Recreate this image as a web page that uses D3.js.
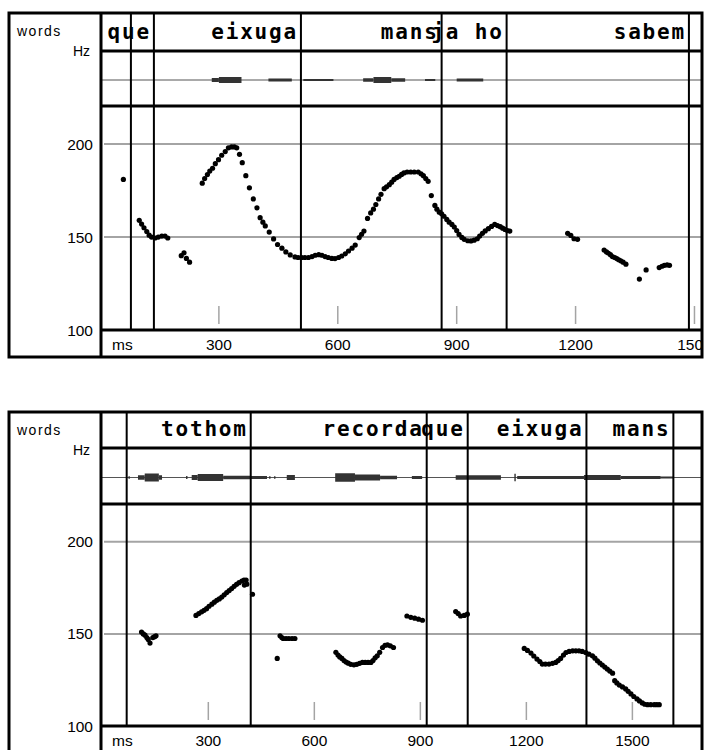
<!DOCTYPE html>
<html>
<head>
<meta charset="utf-8">
<script src="https://cdn.jsdelivr.net/npm/d3@7"></script>
<style>
  body { margin: 0; background: #fff; }
  svg { display: block; }
</style>
</head>
<body>
<div id="chart"></div>
<script>
// --- data (ms / Hz) ---

// word tier: [start ms, end ms, label]
const words1 = [
  [0, 78, ""], [78, 136, "que"], [136, 507, "eixuga"], [507, 862, "mans"],
  [862, 1026, "ja ho"], [1026, 1486, "sabem"], [1486, 1519, ""]
];
const words2 = [
  [0, 69, ""], [69, 420, "tothom"], [420, 918, "recorda"], [918, 1034, "que"],
  [1034, 1370, "eixuga"], [1370, 1616, "mans"], [1616, 1697, ""]
];

// pitch track: [ms, Hz]
const pitch1 = [
  [59, 181],
  [99, 159], [105, 157], [111, 155], [118, 153], [124, 151], [130, 150], [139, 149.5],
  [147, 150], [156, 150.5], [164, 150.5], [171, 149.5],
  [205, 140], [212, 141.5], [218, 138.5], [226, 136.5],
  [258, 179], [264, 181.5], [271, 183.6], [277, 185.5], [284, 187], [291, 189.5], [299, 191.6],
  [307, 194], [316, 196], [324, 198], [332, 198.5], [339, 198.5], [345, 198], [352, 194.5],
  [359, 190], [368, 183], [377, 176.5], [387, 170.5], [396, 165.7], [404, 160.4], [411, 158],
  [417, 156], [427, 152.7], [438, 149], [448, 146], [459, 144], [469, 142], [480, 140.4],
  [492, 139.3], [500, 139], [509, 139], [517, 139], [526, 139], [535, 139.5], [543, 140.2],
  [552, 140.5], [560, 140.2], [568, 139.5], [576, 139], [585, 138.5], [593, 138.4], [602, 139],
  [610, 139.8], [619, 141], [627, 142.5], [636, 144], [644, 145.7], [654, 149.7], [660, 151.5],
  [666, 153.2], [675, 160], [683, 163], [690, 165], [696, 167.5], [703, 170.5], [709, 173],
  [717, 176], [723, 177], [730, 178.2], [736, 179.5], [742, 181], [749, 182], [755, 182.7],
  [761, 183.7], [767, 184.5], [775, 185], [784, 185], [793, 185], [803, 185], [810, 184],
  [816, 183], [822, 181.5], [828, 180], [836, 172.3], [845, 167], [850, 165], [856, 163.4],
  [862, 162.5], [868, 161.2], [875, 159.5], [881, 158], [888, 156.8], [894, 155.4], [900, 153.5],
  [906, 151.4], [913, 149.8], [919, 148.8], [928, 148], [936, 147.9], [944, 148.3], [952, 149.1],
  [958, 150.5], [965, 152], [972, 153.3], [980, 154.5], [988, 155.7], [996, 156.8], [1003, 156.2],
  [1010, 155.6], [1016, 154.8], [1022, 154.1], [1028, 153.5], [1034, 153.2],
  [1180, 152], [1188, 150.9], [1196, 149.1], [1205, 148.8],
  [1272, 143], [1278, 142], [1283, 141.3], [1288, 140.5], [1293, 139.5], [1299, 139],
  [1304, 138.4], [1309, 137.8], [1314, 137.2], [1320, 136.5], [1327, 135.4],
  [1361, 127.4], [1378, 132.3],
  [1411, 133.6], [1418, 134.3], [1424, 134.8], [1431, 135], [1437, 134.8]
];
const pitch2 = [
  [111, 151], [116, 150], [121, 149.3], [126, 148], [130, 147], [135, 145], [143, 148],
  [148, 148.5], [152, 149],
  [265, 160], [273, 161], [281, 162], [288, 162.8], [295, 163.7], [302, 165], [310, 166.1],
  [317, 167.2], [324, 168.2], [331, 169], [338, 170], [345, 171.2], [352, 172.4], [359, 173.5],
  [366, 174.6], [373, 175.8], [380, 176.9], [387, 177.8], [395, 178.7], [401, 179.2],
  [407, 179.2], [402, 176.5], [409, 177], [425, 171.5],
  [495, 136.7],
  [503, 149], [508, 148], [512, 147.5], [520, 147.5], [528, 147.5], [537, 147.5], [545, 147.5],
  [661, 140], [667, 138.5], [672, 137.5], [678, 136.7], [684, 135.5], [690, 134.7], [696, 134.1],
  [703, 133.5], [712, 133.2], [720, 133.5], [728, 134], [736, 134.5], [744, 134.5], [752, 134.5],
  [760, 134.5], [766, 135.5], [772, 137], [778, 138.1], [785, 140], [793, 142.6], [800, 143.8],
  [807, 144], [815, 143.5], [824, 142.6],
  [862, 159.7], [873, 159], [884, 158.5], [895, 158], [906, 157.4],
  [1000, 162.1], [1007, 161], [1014, 159.7], [1024, 160], [1033, 160.7],
  [1194, 142.1], [1203, 141], [1213, 139.6], [1221, 138], [1230, 136.3], [1238, 135],
  [1245, 133.6], [1254, 133.6], [1264, 133.6], [1274, 134], [1283, 134.5], [1290, 135.5],
  [1297, 136.7], [1305, 138.5], [1312, 139.9], [1321, 140.5], [1331, 140.8], [1340, 140.8],
  [1349, 140.8], [1358, 140.5], [1368, 139.9], [1377, 139], [1387, 138.1], [1394, 136.8],
  [1401, 135.4], [1408, 134.2], [1415, 133.1], [1422, 132], [1429, 130.9], [1436, 129.8],
  [1444, 128.7], [1450, 124.6], [1456, 123.4], [1463, 122.2], [1472, 121.2], [1481, 120.1],
  [1488, 118.8], [1496, 117.4], [1504, 116], [1513, 114.7], [1520, 113.6], [1528, 112.5],
  [1535, 111.8], [1543, 111.6], [1552, 111.6], [1562, 111.6], [1569, 111.6], [1576, 111.6]
];

// waveform bursts: [start ms, end ms, relative amplitude]
const bursts1 = [
  [282, 300, 0.4], [300, 357, 0.6], [425, 484, 0.3], [513, 589, 0.15],
  [664, 690, 0.35], [690, 735, 0.6], [735, 770, 0.35], [820, 846, 0.2], [900, 967, 0.3]
];
const bursts2 = [
  [74, 78, 0.25], [101, 120, 0.45], [120, 160, 0.8], [160, 169, 0.45], [237, 241, 0.3],
  [253, 270, 0.5], [270, 342, 0.7], [342, 418, 0.35], [418, 466, 0.3], [472, 476, 0.25],
  [486, 490, 0.25], [522, 545, 0.5], [659, 715, 0.85], [715, 786, 0.6], [786, 834, 0.35],
  [876, 905, 0.3], [1000, 1128, 0.45], [1166, 1170, 0.75], [1174, 1363, 0.3],
  [1363, 1467, 0.5], [1467, 1580, 0.3], [1580, 1618, 0.2]
];

const hzTicks = [100, 150, 200];
const hzGrid = [150, 200];
const msTicks = [300, 600, 900, 1200, 1500];

// --- layout ---
const W = 704, H = 750;
const frameL = 9, frameR = 702, labelSep = 101;

const panels = [
  { top: 13, bottom: 357, wordY: 51, waveY: 106, pitchY: 330, x0: 100, msEnd: 1519,
    words: words1, pitch: pitch1, bursts: bursts1 },
  { top: 412, bottom: 753, wordY: 448, waveY: 504, pitchY: 726, x0: 102.3, msEnd: 1697,
    words: words2, pitch: pitch2, bursts: bursts2 }
];

const svg = d3.select("#chart").append("svg")
  .attr("width", W).attr("height", H)
  .style("font-family", "'Liberation Sans', Arial, sans-serif");

svg.append("rect").attr("width", W).attr("height", H).attr("fill", "#fff");

svg.append("defs").append("clipPath").attr("id", "plotclip")
  .append("rect").attr("x", 0).attr("y", 0).attr("width", 701).attr("height", H);

const amp = d3.scaleLinear().domain([0, 1]).range([0, 5]);

panels.forEach((p) => {
  const g = svg.append("g");
  const x = d3.scaleLinear().domain([0, p.msEnd]).range([p.x0, frameR]);
  const y = d3.scaleLinear().domain([100, 220.5]).range([p.pitchY, p.waveY]);
  const waveMid = (p.wordY + p.waveY) / 2 + 1.5;

  // grid lines
  g.selectAll(".grid").data(hzGrid).enter().append("line")
    .attr("x1", labelSep + 3).attr("x2", frameR)
    .attr("y1", (d) => y(d)).attr("y2", (d) => y(d))
    .attr("stroke", "#a4a4a4").attr("stroke-width", 2);

  // short time ticks
  g.selectAll(".tick").data(msTicks).enter().append("line")
    .attr("x1", (d) => x(d)).attr("x2", (d) => x(d))
    .attr("y1", p.pitchY - 24).attr("y2", p.pitchY - 6)
    .attr("stroke", "#a4a4a4").attr("stroke-width", 1.5);

  // waveform
  g.append("line")
    .attr("x1", labelSep).attr("x2", frameR)
    .attr("y1", waveMid).attr("y2", waveMid)
    .attr("stroke", "#555").attr("stroke-width", 1);
  g.selectAll(".burst").data(p.bursts).enter().append("rect")
    .attr("x", (d) => x(d[0]))
    .attr("width", (d) => Math.max(1, x(d[1]) - x(d[0])))
    .attr("y", (d) => waveMid - Math.max(1, amp(d[2])))
    .attr("height", (d) => 2 * Math.max(1, amp(d[2])))
    .attr("fill", "#333");

  // pitch dots
  g.selectAll(".dot").data(p.pitch).enter().append("circle")
    .attr("cx", (d) => x(d[0])).attr("cy", (d) => y(d[1]))
    .attr("r", 2.6).attr("fill", "#000");

  // word labels (right aligned inside their interval)
  g.selectAll(".word").data(p.words.filter((d) => d[2])).enter().append("text")
    .attr("x", (d) => x(d[1]) - 3)
    .attr("y", p.wordY - 12)
    .attr("text-anchor", "end")
    .style("font-family", "'DejaVu Sans Mono', monospace")
    .style("font-weight", "bold")
    .style("font-size", "21px")
    .style("letter-spacing", "1.8px")
    .text((d) => d[2]);

  // word boundaries
  const bounds = p.words.slice(1).map((d) => d[0]);
  g.selectAll(".bound").data(bounds).enter().append("line")
    .attr("x1", (d) => x(d)).attr("x2", (d) => x(d))
    .attr("y1", p.top).attr("y2", p.pitchY)
    .attr("stroke", "#000").attr("stroke-width", 2);

  // tier separators
  [p.wordY, p.waveY, p.pitchY].forEach((yy) => {
    g.append("line").attr("x1", labelSep).attr("x2", frameR)
      .attr("y1", yy).attr("y2", yy)
      .attr("stroke", "#000").attr("stroke-width", 3);
  });
  g.append("line").attr("x1", labelSep).attr("x2", labelSep)
    .attr("y1", p.top).attr("y2", p.bottom)
    .attr("stroke", "#000").attr("stroke-width", 3);

  // frame
  g.append("rect")
    .attr("x", frameL).attr("y", p.top)
    .attr("width", frameR - frameL).attr("height", p.bottom - p.top)
    .attr("fill", "none").attr("stroke", "#000").attr("stroke-width", 3);

  // left labels
  g.append("text").attr("x", 17).attr("y", p.top + 23)
    .style("font-size", "14px").style("letter-spacing", "1.5px").text("words");
  g.append("text").attr("x", 90).attr("y", p.top + 43)
    .attr("text-anchor", "end").style("font-size", "14px").text("Hz");

  // Hz axis labels
  g.selectAll(".hz").data(hzTicks).enter().append("text")
    .attr("x", 93).attr("y", (d) => y(d) + 5.5)
    .attr("text-anchor", "end").style("font-size", "15.5px")
    .text((d) => d);

  // ms axis labels
  const axisY = p.pitchY + 20;
  const tl = g.append("g").attr("clip-path", "url(#plotclip)");
  tl.append("text").attr("x", 112).attr("y", axisY)
    .style("font-size", "15.5px").text("ms");
  tl.selectAll(".ms").data(msTicks).enter().append("text")
    .attr("x", (d) => x(d)).attr("y", axisY)
    .attr("text-anchor", "middle").style("font-size", "15.5px")
    .text((d) => d);
});
</script>
</body>
</html>
